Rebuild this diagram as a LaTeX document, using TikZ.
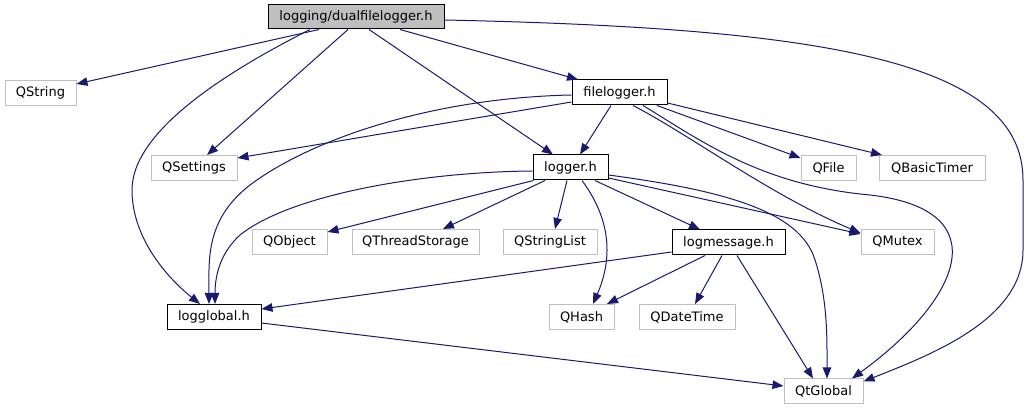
\documentclass[tikz,border=0pt]{standalone}
\usepackage{fontspec}
\setmainfont{DejaVu Sans}
\usetikzlibrary{arrows.meta}
\definecolor{edgeblue}{RGB}{25,25,112}
\definecolor{extgray}{RGB}{191,191,191}

\begin{document}
\begin{tikzpicture}[x=1pt, y=-1pt,
  every node/.style={font=\fontsize{13}{15}\selectfont, inner sep=0pt, minimum height=25pt},
  hdr/.style={draw=black, line width=1pt, fill=white},
  ext/.style={draw=extgray, line width=1pt, fill=white},
  dep/.style={draw=edgeblue, line width=1pt, -{Triangle[length=11pt, width=8.5pt]}}]
  \useasboundingbox (0,0) rectangle (1029,411);
  \node[hdr, fill=extgray, minimum width=176pt, minimum height=24pt] (dfl) at (356,17) {logging/dualfilelogger.h};
  \node[hdr, minimum width=95pt] (flog) at (619.5,92.5) {filelogger.h};
  \node[hdr, minimum width=75pt] (logger) at (570.5,167.5) {logger.h};
  \node[hdr, minimum width=113pt] (logmsg) at (728.5,242.5) {logmessage.h};
  \node[hdr, minimum width=94pt] (logglobal) at (214,317) {logglobal.h};
  \foreach \n/\x/\y/\w/\t in {qstring/40.5/93/71/QString, qsettings/194/168/86/QSettings,
      qfile/828.5/168/55/QFile, qtimer/932/168/106/QBasicTimer, qobject/289.5/242/75/QObject,
      qthread/415.5/242/127/QThreadStorage, qlist/550/242/94/QStringList, qmutex/897.5/242/73/QMutex,
      qhash/581.5/317/65/QHash, qdate/687/317/96/QDateTime, qtglobal/823.5/391.5/79/QtGlobal} {
    \node[ext, minimum width=\w pt] (\n) at (\x,\y) {\t};
  }
  % dualfilelogger.h
  \draw[dep] ([xshift=-37pt]dfl.south) -- ([yshift=9pt]qstring.east);
  \draw[dep] ([xshift=-46pt]dfl.south) .. controls (230,70) and (132,130) .. (132,190) .. controls (132,240) and (170,280) .. ([xshift=-14pt]logglobal.north);
  \draw[dep] ([xshift=-8pt]dfl.south) -- ([xshift=13pt]qsettings.north);
  \draw[dep] ([xshift=13pt]dfl.south) -- ([xshift=-17.5pt]logger.north);
  \draw[dep] ([xshift=44pt]dfl.south) -- ([xshift=-41.5pt]flog.north);
  \draw[dep] ([yshift=-3pt]dfl.east) .. controls (820,28) and (1023,60) .. (1023,180) -- (1023,250) .. controls (1023,320) and (930,355) .. ([yshift=10pt]qtglobal.east);
  % filelogger.h
  \draw[dep] ([xshift=-8.5pt]flog.south) -- ([xshift=9.5pt]logger.north);
  \draw[dep] ([yshift=-9.5pt]flog.west) -- ([yshift=10pt]qsettings.east);
  \draw[dep] ([yshift=-2.5pt]flog.west) .. controls (430,98) and (310,140) .. (250,185) .. controls (205,220) and (209,260) .. ([xshift=-5pt]logglobal.north);
  \draw[dep] ([xshift=37.5pt]flog.south) -- ([yshift=10pt]qfile.west);
  \draw[dep] ([yshift=-10.5pt]flog.east) -- ([xshift=-50pt]qtimer.north);
  \draw[dep] ([xshift=13.5pt]flog.south) .. controls (690,135) and (770,195) .. ([yshift=9pt]qmutex.west);
  \draw[dep] ([xshift=23.5pt]flog.south) .. controls (700,140) and (760,185) .. (870,195) .. controls (1000,210) and (960,300) .. ([xshift=28.5pt]qtglobal.north);
  % logger.h
  \draw[dep] ([yshift=-3.5pt]logger.west) .. controls (420,172) and (290,195) .. (240,235) .. controls (218,255) and (215,280) .. ([xshift=1pt]logglobal.north);
  \draw[dep] ([xshift=-37pt]logger.south) -- ([yshift=10pt]qobject.east);
  \draw[dep] ([xshift=-25.5pt]logger.south) -- ([xshift=27.5pt]qthread.north);
  \draw[dep] ([xshift=-3.5pt]logger.south) -- ([xshift=5pt]qlist.north);
  \draw[dep] ([xshift=11.5pt]logger.south) .. controls (615,225) and (610,265) .. ([xshift=11.5pt]qhash.north);
  \draw[dep] ([xshift=24.5pt]logger.south) -- ([xshift=-28.5pt]logmsg.north);
  \draw[dep] ([yshift=-10.5pt]logger.east) -- ([yshift=8pt]qmutex.west);
  \draw[dep] ([yshift=-7.5pt]logger.east) .. controls (720,190) and (800,210) .. (815,260) .. controls (828,300) and (827,340) .. ([xshift=3.5pt]qtglobal.north);
  % logmessage.h
  \draw[dep] ([yshift=-9.5pt]logmsg.west) -- ([yshift=8pt]logglobal.east);
  \draw[dep] ([xshift=-23.5pt]logmsg.south) -- ([xshift=25.5pt]qhash.north);
  \draw[dep] ([xshift=-6.5pt]logmsg.south) -- ([xshift=8pt]qdate.north);
  \draw[dep] ([xshift=8.5pt]logmsg.south) -- ([xshift=-10.5pt]qtglobal.north);
  % logglobal.h
  \draw[dep] ([yshift=-6pt]logglobal.east) -- ([yshift=5.5pt]qtglobal.west);
\end{tikzpicture}
\end{document}
